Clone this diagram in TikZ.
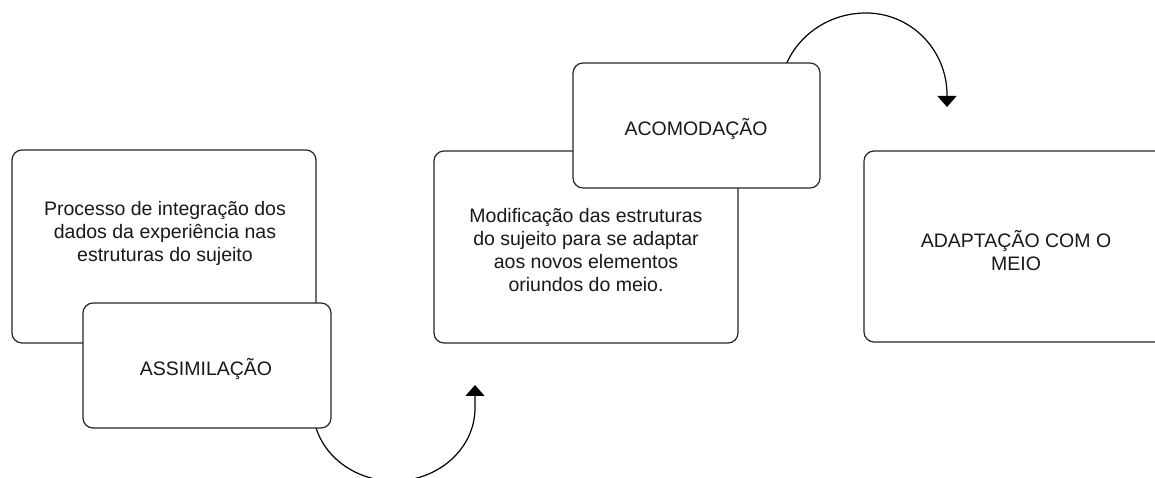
\documentclass[tikz,border=0pt]{standalone}
\usepackage{fontspec}
\setmainfont{Liberation Sans}
\usetikzlibrary{arrows.meta}
\tikzset{
  card/.style={draw=black!85, line width=1.2pt, rounded corners=10pt, fill=white, inner sep=0pt},
  lbl/.style={align=center, font=\fontsize{19.5}{23}\selectfont, text=black!90, inner sep=0pt},
  curvearrow/.style={draw=black, line width=1.2pt, -{Triangle[width=19pt,length=11pt]}}
}
\begin{document}
\begin{tikzpicture}[x=1pt,y=1pt]
\useasboundingbox (0,0) rectangle (1155,478);
\clip (0,0) rectangle (1155,478);
\fill[white] (0,0) rectangle (1155,478);
% curved arrows (their starts are hidden behind the cards)
\coordinate (a1s) at (313,70);
\coordinate (a1e) at (475,93);
\draw[curvearrow] (a1s) arc[start angle=180, end angle=360, x radius=81, y radius=73] -- (a1e);
\coordinate (a2s) at (780,383);
\coordinate (a2e) at (947,371);
\draw[curvearrow] (a2s) arc[start angle=180, end angle=90, x radius=86, y radius=82]
  arc[start angle=90, end angle=0, x radius=81, y radius=82] -- (a2e);
% cards
\node[card, minimum width=304pt, minimum height=193pt] (A) at (164,231.5) {};
\node[lbl] (At) at (165,245) {Processo de integração dos\\dados da experiência nas\\estruturas do sujeito};
\node[card, minimum width=248pt, minimum height=125pt] (B) at (207,112.5) {};
\node[lbl] (Bt) at (206,109) {ASSIMILAÇÃO};
\node[card, minimum width=304pt, minimum height=192pt] (C) at (586,231) {};
\node[lbl] (Ct) at (586,228) {Modificação das estruturas\\do sujeito para se adaptar\\aos novos elementos\\oriundos do meio.};
\node[card, minimum width=247pt, minimum height=125pt] (D) at (696.5,352.5) {};
\node[lbl] (Dt) at (696,349) {ACOMODAÇÃO};
\node[card, minimum width=304pt, minimum height=191pt] (E) at (1016,231.5) {};
\node[lbl] (Et) at (1016,227) {ADAPTAÇÃO COM O\\MEIO};
\end{tikzpicture}
\end{document}
